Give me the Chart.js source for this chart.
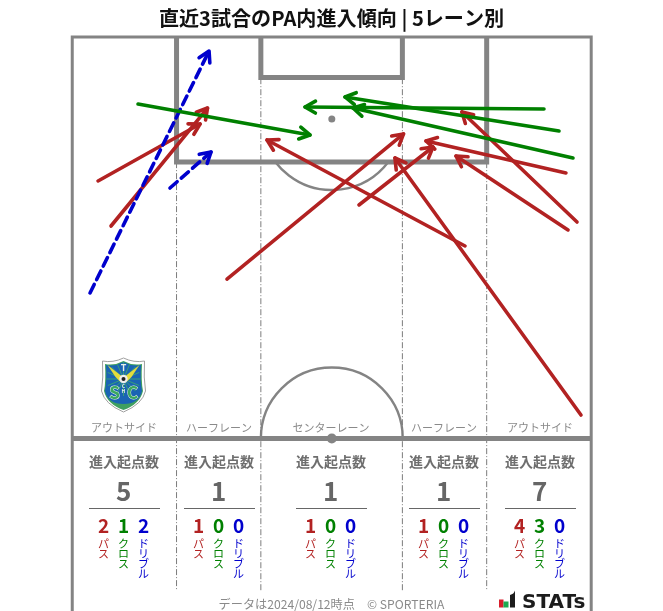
<!DOCTYPE html>
<html>
<head>
<meta charset="utf-8">
<script src="https://cdn.jsdelivr.net/npm/chart.js@4/dist/chart.umd.js"></script>
<style>
  html, body { margin: 0; padding: 0; background: #fff; }
  canvas { display: block; }
</style>
</head>
<body>
<canvas id="entryChart" width="663" height="611"></canvas>
<script>
// arrows in pitch metres: [fromX, fromY, toX, toY], y counted from the goal line
const passArrows = [
  [3.41, 18.87, 16.78, 11.40],
  [5.11, 24.77, 17.76, 9.31],
  [20.31, 31.72, 43.45, 12.71],
  [51.51, 27.39, 25.56, 13.50],
  [37.61, 22.02, 47.31, 14.42],
  [66.71, 49.54, 42.33, 15.86],
  [64.74, 17.82, 46.40, 13.63],
  [65.01, 25.29, 50.33, 15.60],
  [66.19, 24.25, 51.11, 9.83]
];
const crossArrows = [
  [8.65, 8.78, 31.19, 12.84],
  [61.86, 9.44, 30.54, 9.17],
  [63.83, 12.32, 35.78, 7.86],
  [65.66, 15.86, 36.83, 9.31]
];
const dribbleArrows = [
  [2.36, 33.55, 17.96, 1.83],
  [12.84, 19.79, 18.22, 15.07]
];

const titleText = '直近3試合のPA内進入傾向 | 5レーン別';
const footerText = 'データは2024/08/12時点　© SPORTERIA';
const laneNames = ['アウトサイド', 'ハーフレーン', 'センターレーン', 'ハーフレーン', 'アウトサイド'];
const laneCenters = [6.8, 19.3, 33.95, 48.8, 61.3];
const laneTotals = [5, 1, 1, 1, 7];
const lanePass = [2, 1, 1, 1, 4];
const laneCross = [1, 0, 0, 0, 3];
const laneDribble = [2, 0, 0, 0, 0];

const GREY = '#848484';
const RED = '#b22222';
const GREEN = '#008000';
const BLUE = '#0000cd';
const FONT = '"Noto Sans CJK JP", "Noto Sans", sans-serif';

function pts(list) {
  return list.map(p => ({ x: p[0], y: p[1] }));
}
function pitchLine(list, width) {
  return { data: pts(list), borderColor: GREY, borderWidth: width, order: 10, borderJoinStyle: 'miter' };
}
function laneLine(x, top) {
  return {
    data: pts([[x, top], [x, 72.6]]),
    borderColor: '#7c7c7c', borderWidth: 1, borderDash: [6, 2, 1, 2], order: 11
  };
}

const datasets = [
  laneLine(13.7, 16.4),
  laneLine(24.75, 5.4),
  laneLine(43.3, 5.4),
  laneLine(54.35, 16.4),
  pitchLine([[0.03, 75.3], [0.03, 0], [68.05, 0], [68.05, 75.3]], 3),
  pitchLine([[0, 52.62], [68, 52.62]], 5),
  pitchLine([[13.7, 0], [13.7, 16.38], [54.35, 16.38], [54.35, 0]], 5),
  pitchLine([[24.75, 0], [24.75, 5.3], [43.3, 5.3], [43.3, 0]], 5)
];

function addArrows(list, color, order, dash) {
  list.forEach(a => {
    datasets.push({
      data: pts([[a[0], a[1]], [a[2], a[3]]]),
      borderColor: color, borderWidth: 3.6, borderCapStyle: 'round',
      borderDash: dash || [], order: order, arrowHead: true
    });
  });
}
addArrows(passArrows, RED, 3);
addArrows(dribbleArrows, BLUE, 2, [9.5, 5.5]);
addArrows(crossArrows, GREEN, 1);

// open V head on the end of each arrow
const arrowHeads = {
  id: 'arrowHeads',
  afterDatasetDraw(chart, args) {
    const ds = chart.data.datasets[args.index];
    if (!ds.arrowHead) return;
    const { x, y } = chart.scales;
    const x0 = x.getPixelForValue(ds.data[0].x), y0 = y.getPixelForValue(ds.data[0].y);
    const x1 = x.getPixelForValue(ds.data[1].x), y1 = y.getPixelForValue(ds.data[1].y);
    const ang = Math.atan2(y1 - y0, x1 - x0);
    const c = chart.ctx;
    c.save();
    c.strokeStyle = ds.borderColor;
    c.lineWidth = 3.6;
    c.lineCap = 'round';
    c.lineJoin = 'round';
    c.beginPath();
    c.moveTo(x1 + 12 * Math.cos(ang + 2.62), y1 + 12 * Math.sin(ang + 2.62));
    c.lineTo(x1, y1);
    c.lineTo(x1 + 12 * Math.cos(ang - 2.62), y1 + 12 * Math.sin(ang - 2.62));
    c.stroke();
    c.restore();
  }
};

function shieldPath(c, w, top, bottom) {
  c.beginPath();
  c.moveTo(-w, top + 3);
  c.quadraticCurveTo(-w / 2, top + 5, 0, top);
  c.quadraticCurveTo(w / 2, top + 5, w, top + 3);
  c.quadraticCurveTo(w - 1, top + 20, w + 1, 33);
  c.quadraticCurveTo(w - 2, 46, 0, bottom);
  c.quadraticCurveTo(-w + 2, 46, -w - 1, 33);
  c.quadraticCurveTo(-w + 1, top + 20, -w, top + 3);
  c.closePath();
}

function drawCrest(c, cx, top) {
  c.save();
  c.translate(cx, top);
  shieldPath(c, 21, 0, 54);
  c.fillStyle = '#fff';
  c.fill();
  c.strokeStyle = '#a0a0a0';
  c.lineWidth = 1;
  c.stroke();
  // green band at the bottom
  shieldPath(c, 18.5, 3, 52);
  c.fillStyle = '#3f9f5f';
  c.fill();
  // blue field
  c.save();
  shieldPath(c, 17.5, 4, 46);
  c.clip();
  c.fillStyle = '#1a64b4';
  c.fillRect(-22, 0, 44, 54);
  // rays round the ball
  c.strokeStyle = '#3fae6a';
  c.lineWidth = 0.8;
  for (let a = 0; a < 16; a++) {
    c.beginPath();
    c.moveTo(0, 21);
    c.lineTo(17 * Math.cos(a * 0.3927), 21 + 17 * Math.sin(a * 0.3927));
    c.stroke();
  }
  c.restore();
  // wings
  c.fillStyle = '#e3dc3c';
  [-1, 1].forEach(s => {
    c.beginPath();
    c.moveTo(s * 16, 7);
    c.lineTo(s * 2, 18);
    c.lineTo(s * 3, 24);
    c.lineTo(s * 8, 19);
    c.closePath();
    c.fill();
  });
  // ball
  c.beginPath();
  c.arc(0, 21, 4.2, 0, Math.PI * 2);
  c.fillStyle = '#eee';
  c.fill();
  c.beginPath();
  c.arc(0, 21, 2, 0, Math.PI * 2);
  c.fillStyle = '#222';
  c.fill();
  // letters
  c.textAlign = 'center';
  c.textBaseline = 'middle';
  c.fillStyle = '#e6efe8';
  c.font = 'bold 9px ' + FONT;
  c.fillText('T', 0, 10);
  c.font = 'bold 5px ' + FONT;
  c.fillText('C', 0, 28);
  c.fillText('H', 0, 33);
  c.font = 'bold 17px ' + FONT;
  c.strokeStyle = '#e6efe8';
  c.lineWidth = 1;
  c.strokeText('S', -9, 35);
  c.strokeText('C', 9, 35);
  c.fillStyle = '#3aa860';
  c.fillText('S', -9, 35);
  c.fillText('C', 9, 35);
  c.restore();
}

function drawStatsLogo(c) {
  c.save();
  c.fillStyle = '#d81e2c';
  c.fillRect(499, 599.5, 4.5, 8);
  c.fillStyle = '#1eaa50';
  c.fillRect(503.5, 601.5, 5, 6);
  c.fillStyle = '#1c1c1c';
  c.beginPath();
  c.moveTo(510, 595);
  c.quadraticCurveTo(514, 594, 515, 590.5);
  c.lineTo(515, 607.5);
  c.lineTo(510, 607.5);
  c.closePath();
  c.fill();
  c.font = 'bold 20px "DejaVu Sans", sans-serif';
  c.textAlign = 'left';
  c.textBaseline = 'alphabetic';
  c.fillText('STATs', 522, 607.5, 64);
  c.restore();
}

// pitch circles, lane summary texts, crest and logo
const pitchExtras = {
  id: 'pitchExtras',
  beforeDatasetsDraw(chart) {
    const c = chart.ctx;
    const { x, y } = chart.scales;
    const metre = x.getPixelForValue(1) - x.getPixelForValue(0);
    c.save();
    c.strokeStyle = GREY;
    c.lineWidth = 2.4;
    c.beginPath();
    c.arc(x.getPixelForValue(34.05), y.getPixelForValue(10.75), 9.3 * metre, 0.65, Math.PI - 0.65);
    c.stroke();
    c.beginPath();
    c.arc(x.getPixelForValue(34.05), y.getPixelForValue(52.62), 9.3 * metre, Math.PI, Math.PI * 2);
    c.stroke();
    c.fillStyle = GREY;
    [10.75, 52.62].forEach(v => {
      c.beginPath();
      c.arc(x.getPixelForValue(34.05), y.getPixelForValue(v), v > 20 ? 5 : 3.5, 0, Math.PI * 2);
      c.fill();
    });
    c.restore();
  },
  afterDraw(chart) {
    const c = chart.ctx;
    const { x } = chart.scales;
    c.save();
    c.textAlign = 'center';
    c.textBaseline = 'middle';
    laneCenters.forEach((v, i) => {
      const px = Math.round(x.getPixelForValue(v));
      c.fillStyle = '#8a8a8a';
      c.font = '11px ' + FONT;
      c.fillText(laneNames[i], px, 428);
      c.fillStyle = '#6e6e6e';
      c.font = 'bold 14px ' + FONT;
      c.fillText('進入起点数', px, 462);
      c.fillStyle = '#666';
      c.font = 'bold 26px ' + FONT;
      c.fillText(String(laneTotals[i]), px - 0.3, 491);
      c.fillStyle = '#666';
      c.fillRect(px - 35, 508, 71, 1);
      [[lanePass, RED, 'パス', -20.5], [laneCross, GREEN, 'クロス', -0.5], [laneDribble, BLUE, 'ドリブル', 19.5]].forEach(s => {
        c.fillStyle = s[1];
        c.font = 'bold 19px ' + FONT;
        c.fillText(String(s[0][i]), px + s[3], 526);
        c.font = '11px ' + FONT;
        Array.from(s[2]).forEach((ch, k) => c.fillText(ch, px + s[3], 543.5 + k * 10));
      });
    });
    c.fillStyle = '#8a8a8a';
    c.font = '12.15px ' + FONT;
    c.fillText(footerText, 331.5, 604);
    drawCrest(c, 123.5, 358);
    drawStatsLogo(c);
    c.restore();
  }
};

new Chart(document.getElementById('entryChart'), {
  type: 'scatter',
  data: { datasets: datasets },
  options: {
    responsive: false,
    animation: false,
    layout: { padding: 0 },
    datasets: { scatter: { showLine: true, pointRadius: 0, clip: false, fill: false } },
    scales: {
      x: { type: 'linear', display: false, min: -9.44, max: 77.46 },
      y: { type: 'linear', display: false, min: 0, max: 75.23, reverse: true }
    },
    plugins: {
      legend: { display: false },
      tooltip: { enabled: false },
      title: {
        display: true,
        text: titleText,
        color: '#111',
        font: { family: FONT, size: 20.1, weight: 'bold', lineHeight: 1.2 },
        padding: { top: 6, bottom: 6.88 }
      }
    }
  },
  plugins: [pitchExtras, arrowHeads]
});
</script>
</body>
</html>
